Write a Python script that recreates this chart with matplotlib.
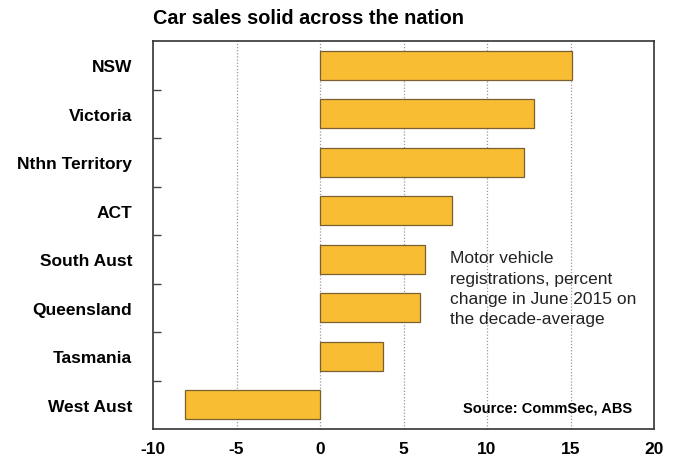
import matplotlib

matplotlib.use("Agg")
import matplotlib.pyplot as plt  # noqa: E402
from matplotlib.ticker import FixedLocator, NullFormatter  # noqa: E402

plt.rcParams["font.family"] = ["Liberation Sans", "DejaVu Sans"]

# 지역별 자동차 등록 변화율 (%), 위에서 아래 순서
regions = [
    "NSW",
    "Victoria",
    "Nthn Territory",
    "ACT",
    "South Aust",
    "Queensland",
    "Tasmania",
    "West Aust",
]
pct_change = [15.1, 12.8, 12.2, 7.9, 6.3, 6.0, 3.8, -8.1]

x_ticks = [-10, -5, 0, 5, 10, 15, 20]

bar_color = "#F8BD33"
edge_color = "#7a6030"

fig = plt.figure(figsize=(6.76, 4.6), dpi=100)
ax = fig.add_axes([153 / 676, 30 / 460, 501 / 676, 388 / 460])

y_pos = list(range(len(regions)))[::-1]
ax.barh(y_pos, pct_change, height=0.6, color=bar_color,
        edgecolor=edge_color, linewidth=0.9, zorder=3)

ax.set_xlim(-10, 20)
ax.set_ylim(-0.5, len(regions) - 0.5)

ax.set_xticks(x_ticks)
ax.set_xticklabels([str(t) for t in x_ticks], fontsize=12.5, fontweight="bold")
ax.tick_params(axis="x", length=0, pad=9)

# 카테고리 이름은 가운데, 눈금은 경계에
ax.set_yticks(y_pos)
ax.set_yticklabels(regions, fontsize=12.5, fontweight="bold")
ax.tick_params(axis="y", which="major", length=0, pad=15)
ax.yaxis.set_minor_locator(FixedLocator([i + 0.5 for i in range(len(regions) - 1)]))
ax.yaxis.set_minor_formatter(NullFormatter())
ax.tick_params(axis="y", which="minor", direction="in", length=6, width=1.0,
               color="#444444")

for t in [-5, 0, 5, 10, 15]:
    ax.axvline(t, color="#9a9a9a", linestyle=(0, (1, 1.5)), linewidth=0.9, zorder=1)

for sp in ax.spines.values():
    sp.set_linewidth(1.2)
    sp.set_color("#333333")

fig.text(153 / 676, 1 - 18 / 460, "Car sales solid across the nation",
         fontsize=14.3, fontweight="bold", va="center", ha="left")

ax.text(7.8, 2.4, "Motor vehicle\nregistrations, percent\nchange in June 2015 on\nthe decade-average",
        fontsize=12.5, va="center", ha="left", color="#222222", linespacing=1.45, zorder=4)

ax.text(18.7, -0.05, "Source: CommSec, ABS", fontsize=10.5, fontweight="bold",
        va="center", ha="right", zorder=4)

fig.savefig("out.png", dpi=100)
